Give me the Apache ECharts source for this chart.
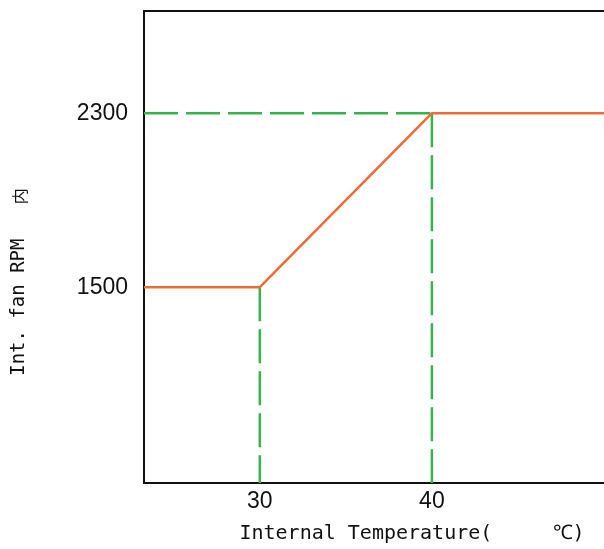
<!DOCTYPE html>
<html>
<head>
<meta charset="utf-8">
<script src="https://cdn.jsdelivr.net/npm/echarts@6/dist/echarts.min.js"></script>
<style>html,body{margin:0;padding:0;background:#fff}#c{width:604px;height:549px}</style>
</head>
<body>
<div id="c"></div>
<script>
// Curve breakpoints (temperature in °C -> internal fan RPM)
const temps = [23.27, 30, 40, 50];
const rpms = [1500, 1500, 2300, 2300];
// Reference (guide) lines
const guideTempLow = 30;
const guideTempHigh = 40;
const rpmLow = 1500;
const rpmHigh = 2300;
// Axis ranges and labels
const xMin = 23.27, xMax = 50;
const yMin = 600, yMax = 2770;
const xTickLabels = [30, 40];
const yTickLabels = [1500, 2300];
const xTitle = 'Internal Temperature(     ℃)';
const yTitle = 'Int. fan RPM   ';
const yTitleCJK = '内';

const green = '#35b44a';
const orange = '#f06a33';
const dash = [34, 8];
const axisLine = {show: true, onZero: false, lineStyle: {color: '#111', width: 2}};

const chart = echarts.init(document.getElementById('c'), null, {renderer: 'canvas'});
chart.setOption({
  animation: false,
  grid: {left: 144, top: 11, bottom: 66, right: 0},
  xAxis: [{
    type: 'value', min: xMin, max: xMax, position: 'bottom',
    axisLine: axisLine,
    axisTick: {show: false},
    splitLine: {show: false},
    axisLabel: {customValues: xTickLabels, formatter: v => String(v), fontSize: 23, fontFamily: 'Liberation Sans', color: '#111', margin: 7},
    name: xTitle, nameLocation: 'middle', nameGap: 41,
    nameTextStyle: {fontSize: 20, fontFamily: 'DejaVu Sans Mono', color: '#111', padding: [0, 0, 0, 76]}
  }, {
    type: 'value', min: xMin, max: xMax, position: 'top',
    axisLine: axisLine,
    axisTick: {show: false},
    splitLine: {show: false},
    axisLabel: {show: false}
  }],
  yAxis: {
    type: 'value', min: yMin, max: yMax,
    axisLine: axisLine,
    axisTick: {show: false},
    splitLine: {show: false},
    axisLabel: {customValues: yTickLabels, formatter: v => String(v), fontSize: 23, fontFamily: 'Liberation Sans', color: '#111', margin: 16},
    name: '{a|' + yTitle + '}{b|' + yTitleCJK + '}', nameLocation: 'middle', nameRotate: 90, nameGap: 115,
    nameTextStyle: {
      padding: [0, 70, 0, 0],
      rich: {
        a: {fontSize: 19, fontFamily: 'DejaVu Sans Mono', color: '#111'},
        b: {fontSize: 16, fontFamily: 'Noto Sans CJK SC', color: '#111'}
      }
    }
  },
  series: [
    {type: 'line', symbol: 'none', silent: true, z: 2,
     data: [[xMin, rpmHigh], [guideTempHigh, rpmHigh]],
     lineStyle: {color: green, width: 2.5, type: dash}},
    {type: 'line', symbol: 'none', silent: true, z: 2,
     data: [[guideTempLow, rpmLow], [guideTempLow, yMin]],
     lineStyle: {color: green, width: 2.5, type: dash}},
    {type: 'line', symbol: 'none', silent: true, z: 2,
     data: [[guideTempHigh, rpmHigh], [guideTempHigh, yMin]],
     lineStyle: {color: green, width: 2.5, type: dash}},
    {type: 'line', symbol: 'none', silent: true, z: 3,
     data: temps.map((t, i) => [t, rpms[i]]),
     lineStyle: {color: orange, width: 2.5}}
  ]
});
</script>
</body>
</html>
